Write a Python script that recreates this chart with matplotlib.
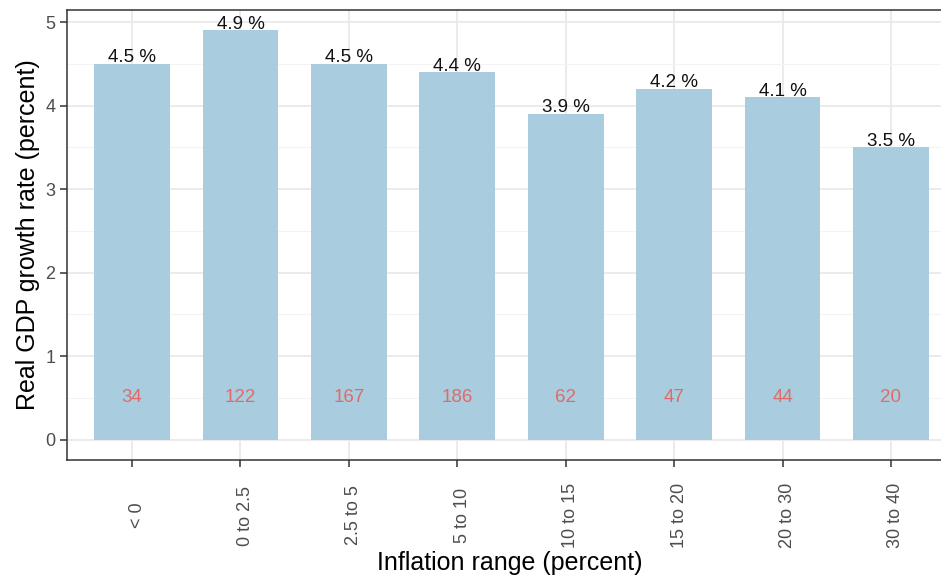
import matplotlib
matplotlib.use("Agg")
import matplotlib.pyplot as plt
import matplotlib.transforms as mtransforms
from matplotlib.ticker import MultipleLocator

categories = ["< 0", "0 to 2.5", "2.5 to 5", "5 to 10", "10 to 15", "15 to 20", "20 to 30", "30 to 40"]
growth = [4.5, 4.9, 4.5, 4.4, 3.9, 4.2, 4.1, 3.5]
counts = [34, 122, 167, 186, 62, 47, 44, 20]

plt.rcParams['font.family'] = ['Liberation Sans', 'DejaVu Sans']

fig = plt.figure(figsize=(9.41, 5.77), dpi=100)
# panel runs slightly past the right edge, like the cropped original
ax = fig.add_axes([67 / 941, 117 / 577, 889 / 941, 450 / 577])

x = list(range(len(categories)))
ax.bar(x, growth, width=0.7, color="#A9CDDF", zorder=2)

for xi, g, n in zip(x, growth, counts):
    ax.text(xi, g - 0.03, f"{g} %", ha="center", va="bottom", fontsize=13.5, color="#111111", zorder=3)
    ax.text(xi, 0.5, str(n), ha="center", va="center", fontsize=13.5, color="#E06A66", zorder=3)

ax.set_xlim(-0.6, len(categories) - 1 + 0.6)
ax.set_ylim(-0.245, 5.145)
ax.set_xticks(x)
ax.set_xticklabels(categories, rotation=90, fontsize=13, color="#4d4d4d", va="center", ha="center")
ax.yaxis.set_major_locator(MultipleLocator(1))
ax.yaxis.set_minor_locator(MultipleLocator(0.5))
ax.tick_params(axis="y", labelsize=13, labelcolor="#4d4d4d")
ax.tick_params(axis="x", pad=35)
ax.tick_params(which="major", length=5, width=1.1, color="#333333")
ax.tick_params(which="minor", length=0)

# nudge rotated labels a little to the right of their ticks
shift = mtransforms.ScaledTranslation(5 / 100, 0, fig.dpi_scale_trans)
for lab in ax.get_xticklabels():
    lab.set_transform(lab.get_transform() + shift)

ax.grid(True, which="major", color="#EBEBEB", linewidth=1.4, zorder=0)
ax.grid(True, which="minor", axis="y", color="#F3F3F3", linewidth=0.8, zorder=0)
ax.set_axisbelow(True)
for s in ax.spines.values():
    s.set_color("#333333")
    s.set_linewidth(1.1)

ax.set_xlabel("Inflation range (percent)", fontsize=18)
ax.set_ylabel("Real GDP growth rate (percent)", fontsize=18)
# place axis titles where the original has them (in axes fraction)
ax.xaxis.set_label_coords((510 - 67) / 889, -(563 - 460) / 450)
ax.yaxis.set_label_coords(-(67 - 28) / 889, 0.5)
ax.xaxis.label.set_va("center")
ax.yaxis.label.set_va("center")

fig.savefig("out.png", dpi=100)
